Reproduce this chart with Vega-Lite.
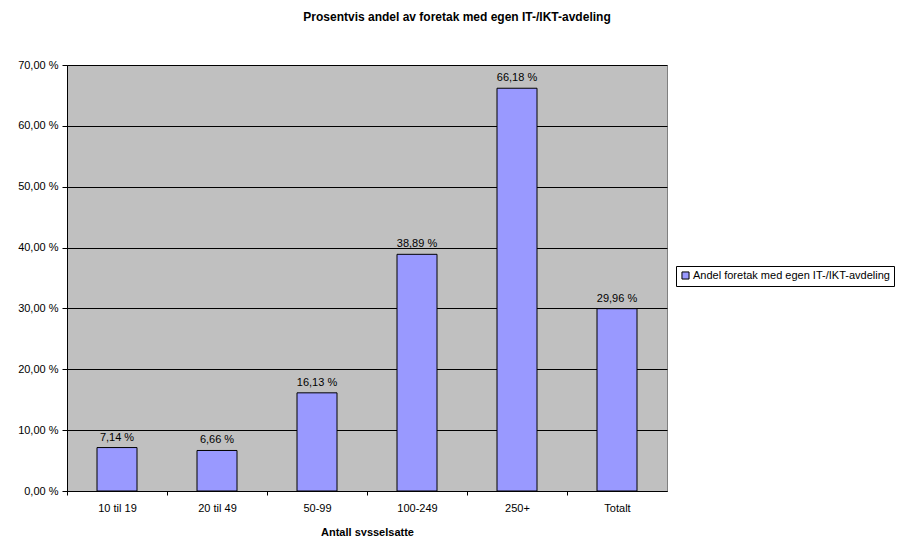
{
  "$schema": "https://vega.github.io/schema/vega-lite/v6.json",
  "width": 600,
  "height": 426,
  "autosize": {"type": "none"},
  "padding": {"left": 67, "top": 65, "right": 242, "bottom": 45},
  "background": "white",
  "title": {
    "text": "Prosentvis andel av foretak med egen IT-/IKT-avdeling",
    "font": "Liberation Sans",
    "fontSize": 12,
    "fontWeight": "bold",
    "color": "black",
    "anchor": "middle",
    "dx": 90,
    "offset": 35
  },
  "config": {
    "font": "Liberation Sans",
    "view": {"fill": "#C0C0C0", "stroke": "#808080", "strokeWidth": 1}
  },
  "data": {
    "values": [
      {"kat": "10 til 19", "andel": 7.14},
      {"kat": "20 til 49", "andel": 6.66},
      {"kat": "50-99", "andel": 16.13},
      {"kat": "100-249", "andel": 38.89},
      {"kat": "250+", "andel": 66.18},
      {"kat": "Totalt", "andel": 29.96}
    ]
  },
  "transform": [
    {"calculate": "replace(format(datum.andel, '.2f'), '.', ',') + ' %'", "as": "lbl"}
  ],
  "encoding": {
    "x": {
      "field": "kat",
      "type": "nominal",
      "sort": null,
      "scale": {"paddingInner": 0.6, "paddingOuter": 0.3},
      "axis": {
        "title": "Antall sysselsatte",
        "titleFont": "Liberation Sans",
        "titleFontSize": 11,
        "titleFontWeight": "bold",
        "titleColor": "black",
        "titlePadding": 13,
        "labelFont": "Liberation Sans",
        "labelFontSize": 11,
        "labelColor": "black",
        "labelAngle": 0,
        "labelPadding": 7,
        "tickOffset": -50,
        "labelOffset": 50,
        "tickColor": "black",
        "tickSize": 4,
        "domainColor": "black",
        "grid": false
      }
    },
    "y": {
      "field": "andel",
      "type": "quantitative",
      "scale": {"domain": [0, 70], "nice": false},
      "axis": {
        "title": null,
        "values": [0, 10, 20, 30, 40, 50, 60, 70],
        "labelExpr": "replace(format(datum.value, '.2f'), '.', ',') + ' %'",
        "labelFont": "Liberation Sans",
        "labelFontSize": 11,
        "labelColor": "black",
        "labelPadding": 4,
        "tickColor": "black",
        "tickSize": 5,
        "domainColor": "black",
        "grid": true,
        "gridColor": "black",
        "gridOpacity": 1
      }
    }
  },
  "layer": [
    {
      "mark": {"type": "bar", "stroke": "black", "strokeWidth": 1},
      "encoding": {
        "fill": {
          "datum": "Andel foretak med egen IT-/IKT-avdeling",
          "type": "nominal",
          "scale": {"range": ["#9999FF"]},
          "legend": {
            "title": null,
            "orient": "none",
            "legendX": 609,
            "legendY": 201,
            "strokeColor": "black",
            "fillColor": "white",
            "padding": 4,
            "symbolType": "square",
            "symbolSize": 50,
            "symbolStrokeColor": "black",
            "symbolStrokeWidth": 1,
            "labelFont": "Liberation Sans",
            "labelFontSize": 11,
            "labelColor": "black",
            "labelOffset": 2,
            "labelLimit": 400
          }
        }
      }
    },
    {
      "mark": {"type": "text", "baseline": "bottom", "dy": -5, "font": "Liberation Sans", "fontSize": 11, "color": "black"},
      "encoding": {"text": {"field": "lbl"}}
    }
  ]
}
